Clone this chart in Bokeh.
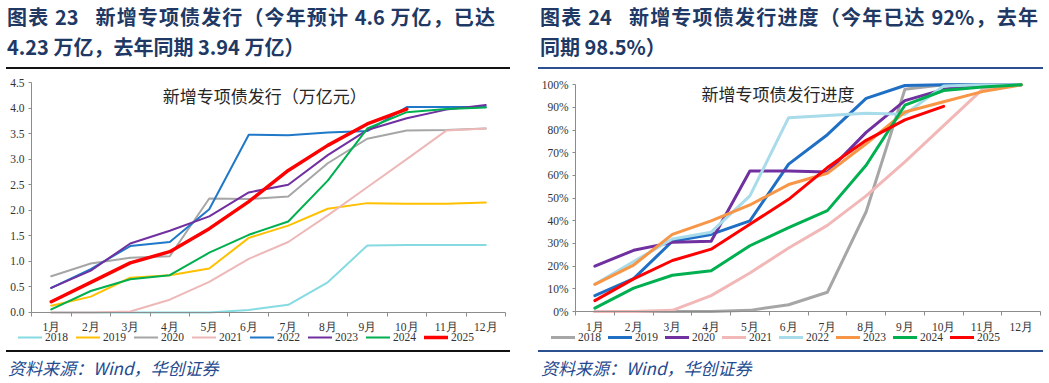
from bokeh.plotting import figure
from bokeh.models import Div, Legend, LegendItem, FixedTicker, Label, Range1d, PrintfTickFormatter
from bokeh.layouts import row, column
from bokeh.embed import file_html
from bokeh.resources import INLINE

# ---------------- data ----------------
months = ["1月", "2月", "3月", "4月", "5月", "6月", "7月", "8月", "9月", "10月", "11月", "12月"]
month_idx = list(range(1, 13))
years = ["2018", "2019", "2020", "2021", "2022", "2023", "2024", "2025"]

# left: cumulative issuance (万亿元)
issue_2018 = [0, 0, 0, 0, 0, 0.05, 0.15, 0.59, 1.31, 1.32, 1.32, 1.32]
issue_2019 = [0.13, 0.31, 0.68, 0.73, 0.86, 1.46, 1.70, 2.03, 2.14, 2.13, 2.13, 2.15]
issue_2020 = [0.71, 0.96, 1.07, 1.10, 2.23, 2.22, 2.27, 2.92, 3.40, 3.56, 3.57, 3.60]
issue_2021 = [0, 0, 0.02, 0.25, 0.60, 1.05, 1.38, 1.90, 2.45, 3.00, 3.56, 3.60]
issue_2022 = [0.48, 0.85, 1.30, 1.38, 2.02, 3.48, 3.47, 3.52, 3.55, 4.02, 4.02, 4.02]
issue_2023 = [0.48, 0.82, 1.35, 1.60, 1.88, 2.35, 2.50, 3.08, 3.57, 3.80, 3.97, 4.06]
issue_2024 = [0.06, 0.42, 0.65, 0.73, 1.17, 1.52, 1.78, 2.58, 3.60, 3.92, 3.98, 4.01]
issue_2025 = [0.21, 0.59, 0.97, 1.19, 1.64, 2.17, 2.78, 3.27, 3.69, 3.98]
issue_series = [issue_2018, issue_2019, issue_2020, issue_2021,
                issue_2022, issue_2023, issue_2024, issue_2025]

# right: issuance progress (%)
pct_2018 = [0, 0, 0, 0, 0.5, 3, 8.5, 44, 98, 100, 100, 100]
pct_2019 = [7, 14.5, 31, 34, 40, 65, 78, 94, 99.7, 100, 100, 100]
pct_2020 = [20, 27, 30.5, 31, 62, 62, 61.5, 79, 93, 98, 100, 100]
pct_2021 = [0, 0, 0.5, 7, 17, 28, 38, 51, 66, 82, 98, 100]
pct_2022 = [12, 22, 32, 35, 51, 85.5, 86.5, 87.5, 87, 99.5, 100, 100]
pct_2023 = [12, 20.5, 34, 40, 47, 56, 61, 74, 88, 92.5, 97, 100]
pct_2024 = [1.5, 10.3, 16, 18, 29, 37, 44.5, 64.5, 91, 97.5, 99, 100]
pct_2025 = [4.8, 14.4, 22.5, 27.5, 38.5, 49.5, 63.5, 75.5, 84.5, 90.5]
pct_series = [pct_2018, pct_2019, pct_2020, pct_2021,
              pct_2022, pct_2023, pct_2024, pct_2025]

left_ticks = [0, 0.5, 1.0, 1.5, 2.0, 2.5, 3.0, 3.5, 4.0, 4.5]
right_ticks = [0, 10, 20, 30, 40, 50, 60, 70, 80, 90, 100]

# ---------------- styles ----------------
left_colors = ["#86dbe2", "#ffc000", "#a6a6a6", "#eeb8b8", "#1f78c8", "#7030a0", "#00b050", "#ff0000"]
left_widths = [2, 2, 2, 2, 2, 2, 2, 3.5]
right_colors = ["#a6a6a6", "#1f6fc5", "#7030a0", "#f2b8b8", "#a9dcea", "#f79646", "#00b050", "#ff0000"]
right_widths = [3, 3, 3, 3, 3, 3, 3, 3]

SERIF = "Liberation Serif"
CJK = "Noto Sans CJK SC"
TITLE_BLUE = "#203864"
AXIS_GREY = "#8c8c8c"
FIG_H = 279


def make_chart(series, colors, widths, width, xr, yr, ymax, yticks,
               inner_title, title_x, title_y, percent, legend_x, legend_spacing):
    p = figure(width=width, height=FIG_H, output_backend="svg", toolbar_location=None,
               x_range=Range1d(*xr), y_range=Range1d(*yr),
               min_border_left=0, min_border_right=0, min_border_top=0, min_border_bottom=0)
    p.outline_line_color = None
    p.grid.visible = False
    p.background_fill_color = "white"
    p.border_fill_color = "white"

    items = []
    for yrs, vals, c, w in zip(years, series, colors, widths):
        r = p.line(month_idx[:len(vals)], vals, line_color=c, line_width=w,
                   line_join="round", line_cap="round")
        items.append(LegendItem(label=yrs, renderers=[r]))

    xa = p.xaxis[0]
    xa.fixed_location = 0
    xa.bounds = (0.5, 12.5)
    xa.ticker = FixedTicker(ticks=month_idx, minor_ticks=[i + 0.5 for i in range(0, 13)])
    xa.major_label_overrides = {i: m for i, m in zip(month_idx, months)}
    xa.major_tick_out = 0
    xa.major_tick_in = 0
    xa.minor_tick_out = 4
    xa.minor_tick_in = 0
    xa.minor_tick_line_color = AXIS_GREY
    xa.axis_line_color = AXIS_GREY
    xa.major_label_standoff = 5
    xa.major_label_text_font = SERIF
    xa.major_label_text_font_size = "11.5px"
    xa.major_label_text_color = "#333333"

    ya = p.yaxis[0]
    ya.fixed_location = 0.5
    ya.bounds = (0, ymax)
    ya.ticker = FixedTicker(ticks=yticks)
    if percent:
        ya.major_label_overrides = {t: f"{t}%" for t in yticks}
    else:
        ya.formatter = PrintfTickFormatter(format="%.1f")
    ya.axis_line_color = AXIS_GREY
    ya.major_tick_line_color = AXIS_GREY
    ya.major_tick_out = 3
    ya.major_tick_in = 0
    ya.minor_tick_line_color = None
    ya.major_label_standoff = 4
    ya.major_label_text_font = SERIF
    ya.major_label_text_font_size = "11.5px"
    ya.major_label_text_color = "#333333"

    p.add_layout(Label(x=title_x, y=title_y, text=inner_title, text_font=CJK,
                       text_font_size="17px", text_color="#262626", text_baseline="middle"))

    legend = Legend(items=items, orientation="horizontal", location=(legend_x, 7),
                    glyph_width=24, glyph_height=10, label_standoff=3, spacing=legend_spacing,
                    padding=0, margin=0, label_height=12, label_text_font=SERIF,
                    label_text_font_size="11.5px", label_text_color="#333333",
                    border_line_alpha=0, background_fill_alpha=0)
    p.add_layout(legend, "center")
    return p


def title_div(line1, line2, width, rule_left, rule_width, text_left, text_width, rule_color):
    html = (
        f'<div style="margin-left:{rule_left}px;width:{rule_width}px;height:69px;'
        f'border-bottom:2px solid {rule_color};font-family:\'{CJK}\';font-weight:bold;'
        f'font-size:20px;color:{TITLE_BLUE};overflow:visible;">'
        f'<div style="padding-top:6px;width:{text_width}px;margin-left:{text_left}px;line-height:22px;'
        f'text-align:justify;text-align-last:justify;white-space:nowrap;">{line1}</div>'
        f'<div style="margin-left:{text_left}px;margin-top:8px;line-height:22px;white-space:nowrap;">{line2}</div>'
        f'</div>'
    )
    return Div(text=html, width=width, height=71, margin=(0, 0, 0, 0))


def source_div(width, rule_left, rule_width, text_left, rule_color):
    html = (
        f'<div style="margin-left:{rule_left}px;width:{rule_width}px;height:28px;'
        f'border-top:2px solid {rule_color};">'
        f'<div style="padding-top:5px;margin-left:{text_left}px;line-height:22px;font-family:\'{CJK}\';'
        f'font-style:italic;font-size:17px;color:#244a8f;white-space:nowrap;">资料来源：Wind，华创证券</div></div>'
    )
    return Div(text=html, width=width, height=30, margin=(0, 0, 0, 0))


# left panel spans page x 0..515, right panel 538..1043
left_chart = make_chart(issue_series, left_colors, left_widths, 515,
                        (-0.2848, 12.753), (-0.744, 4.716), 4.5, left_ticks,
                        "新增专项债发行（万亿元）", 3.82, 4.25, False, 18, 8)
right_chart = make_chart(pct_series, right_colors, right_widths, 505,
                         (-0.4548, 12.577), (-17.2, 105.87), 100, right_ticks,
                         "新增专项债发行进度", 3.75, 96, True, 13, 7)

left_col = column(
    title_div("图表 23&nbsp;&nbsp; 新增专项债发行（今年预计 4.6 万亿，已达",
              "4.23 万亿，去年同期 3.94 万亿）", 515, 6, 504, 1, 488, "#111111"),
    left_chart,
    source_div(515, 6, 504, 2, "#111111"),
    spacing=0,
)
right_col = column(
    title_div("图表 24&nbsp;&nbsp; 新增专项债发行进度（今年已达 92%，去年",
              "同期 98.5%）", 505, 0, 505, 2, 498, "#2b4f8f"),
    right_chart,
    source_div(505, 0, 505, 3, "#2b4f8f"),
    spacing=0,
)

layout = row(left_col, right_col, spacing=23)
open("out.html", "w").write(file_html(layout, INLINE))
